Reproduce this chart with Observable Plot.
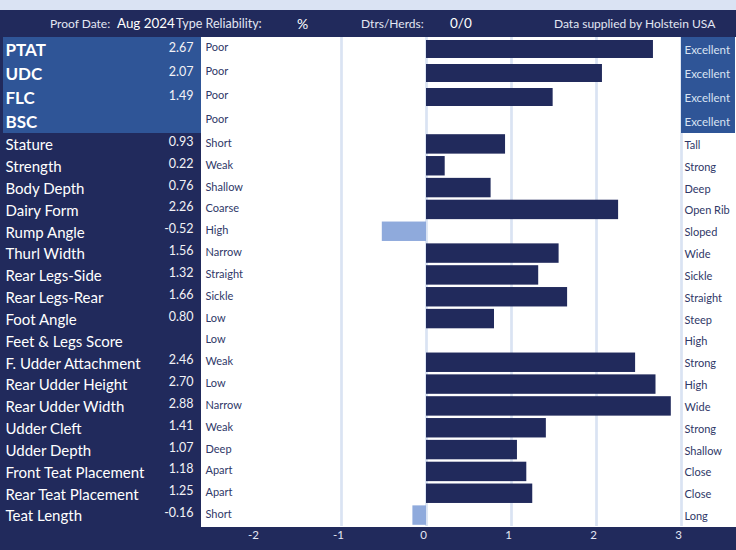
<!DOCTYPE html>
<html>
<head>
<meta charset="utf-8">
<script src="https://cdn.jsdelivr.net/npm/d3@7"></script>
<script src="https://cdn.jsdelivr.net/npm/@observablehq/plot@0.6"></script>
<style>
  html, body { margin: 0; padding: 0; overflow: hidden; }
  body { width: 736px; height: 550px; background: #dae3f3; font-family: Lato, sans-serif; }
  #top { height: 10px; background: #dae3f3; }
  #header { position: relative; height: 27px; background: #212a5c; color: #e3e7f3; }
  #header span { position: absolute; top: 0; line-height: 27px; white-space: nowrap; }
  #charts svg { display: block; }
</style>
</head>
<body>
<div id="top"></div>
<div id="header">
  <span style="left:50px;font-size:12px;">Proof Date:</span>
  <span style="left:117px;font-size:13.4px;color:#fff;">Aug 2024</span>
  <span style="left:176px;font-size:12.5px;">Type Reliability:</span>
  <span style="left:297px;font-size:14px;color:#fff;">%</span>
  <span style="left:361px;font-size:12px;">Dtrs/Herds:</span>
  <span style="left:450px;font-size:13.5px;color:#fff;">0/0</span>
  <span style="left:554px;font-size:12px;">Data supplied by Holstein USA</span>
</div>
<div id="charts"></div>
<script>
// ---- data ----
const summaryTraits = ["PTAT", "UDC", "FLC", "BSC"];
const summaryValues = [2.67, 2.07, 1.49, null];
const summaryLow = ["Poor", "Poor", "Poor", "Poor"];
const summaryHigh = ["Excellent", "Excellent", "Excellent", "Excellent"];

const traits = ["Stature", "Strength", "Body Depth", "Dairy Form", "Rump Angle", "Thurl Width",
  "Rear Legs-Side", "Rear Legs-Rear", "Foot Angle", "Feet & Legs Score", "F. Udder Attachment",
  "Rear Udder Height", "Rear Udder Width", "Udder Cleft", "Udder Depth", "Front Teat Placement",
  "Rear Teat Placement", "Teat Length"];
const traitValues = [0.93, 0.22, 0.76, 2.26, -0.52, 1.56, 1.32, 1.66, 0.80, null, 2.46,
  2.70, 2.88, 1.41, 1.07, 1.18, 1.25, -0.16];
const traitLow = ["Short", "Weak", "Shallow", "Coarse", "High", "Narrow", "Straight", "Sickle", "Low",
  "Low", "Weak", "Low", "Narrow", "Weak", "Deep", "Apart", "Apart", "Short"];
const traitHigh = ["Tall", "Strong", "Deep", "Open Rib", "Sloped", "Wide", "Sickle", "Straight", "Steep",
  "High", "Strong", "High", "Wide", "Strong", "Shallow", "Close", "Close", "Long"];

const xTicks = [-2, -1, 0, 1, 2, 3];
const gridTicks = [-1, 0, 1, 2, 3];

// ---- styles ----
const NAVY = "#212a5c";
const BLUE = "#2f5597";
const LIGHT = "#8faadc";
const GRID = "#dae3f3";
const LABEL = "#2f3868";

function panel({names, values, low, high, summary, height, marginBottom, axis}) {
  const rows = names.map((name, i) => ({name, value: values[i], low: low[i], high: high[i]}));
  const highlight = (index, scales, vals, dim) => {
    const g = d3.create("svg:g");
    if (!summary) return g.node();
    const top = dim.marginTop, h = dim.height - dim.marginTop - dim.marginBottom;
    g.append("rect").attr("x", 3).attr("y", top).attr("width", dim.marginLeft - 3).attr("height", h).attr("fill", BLUE);
    const xr = scales.x(3);
    g.append("rect").attr("x", xr).attr("y", top).attr("width", dim.width - dim.marginRight - xr).attr("height", h).attr("fill", BLUE);
    return g.node();
  };
  const inset = summary ? 3 : 1.2;
  const marks = [
    Plot.frame({fill: "white", stroke: "none", inset: -0.5}),
    Plot.ruleX(gridTicks, {stroke: GRID, strokeWidth: 2.7}),
    highlight,
    Plot.barX(rows.filter(d => d.value != null), {
      x: "value", y: "name", fill: d => d.value < 0 ? LIGHT : NAVY,
      insetTop: inset, insetBottom: inset
    }),
    Plot.text(rows, {
      y: "name", text: "name", frameAnchor: "left", dx: -196, dy: 1, textAnchor: "start",
      fill: "white", fontSize: summary ? 17 : 15, fontWeight: summary ? "bold" : "normal"
    }),
    Plot.text(rows.filter(d => d.value != null), {
      y: "name", text: d => d.value.toFixed(2), frameAnchor: "left", dx: -8, dy: summary ? -2 : -2.5,
      textAnchor: "end", fill: "#f2f2f6", fontSize: 12.5
    }),
    Plot.text(rows, {
      y: "name", text: "low", frameAnchor: "left", dx: 4, dy: summary ? -2 : -1,
      textAnchor: "start", fill: LABEL, fontSize: 11
    }),
    Plot.text(rows, {
      y: "name", text: "high", frameAnchor: "right", dx: -51, dy: 1,
      textAnchor: "start", fill: summary ? GRID : LABEL, fontSize: summary ? 11.5 : 11
    })
  ];
  if (axis) {
    marks.push(Plot.text(xTicks, {
      x: d => d, text: d => String(d), frameAnchor: "bottom", dy: 12, dx: -3,
      fill: "#e3e7f3", fontSize: 11.5
    }));
  }
  return Plot.plot({
    width: 736, height, marginLeft: 201, marginRight: 1, marginTop: 0, marginBottom,
    style: {background: NAVY, fontFamily: "Lato, sans-serif", display: "block"},
    x: {domain: [-2, 3], range: [256, 681], axis: null},
    y: {domain: names, axis: null, padding: 0, round: false},
    marks
  });
}

const charts = document.getElementById("charts");
charts.append(panel({
  names: summaryTraits, values: summaryValues, low: summaryLow, high: summaryHigh,
  summary: true, height: 96, marginBottom: 0, axis: false
}));
charts.append(panel({
  names: traits, values: traitValues, low: traitLow, high: traitHigh,
  summary: false, height: 417, marginBottom: 24, axis: true
}));
</script>
</body>
</html>
